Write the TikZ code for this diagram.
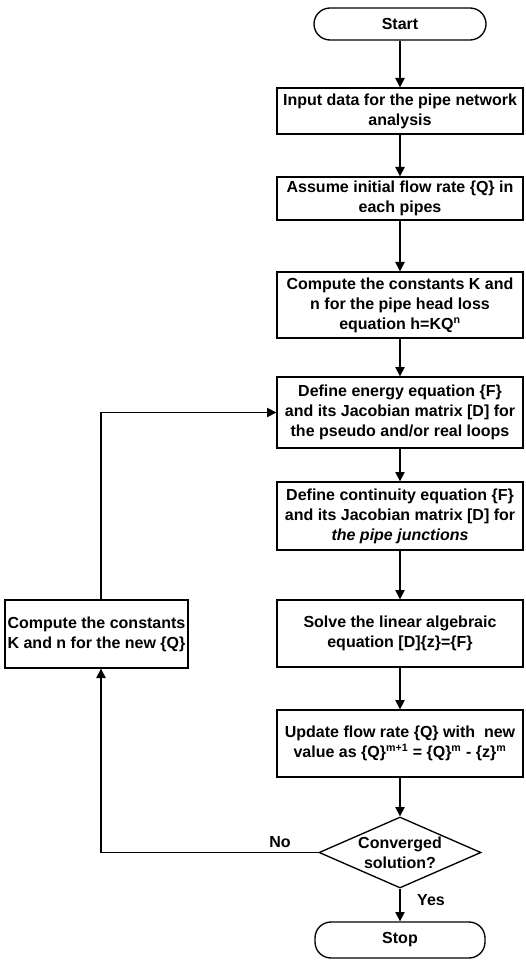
\documentclass[tikz,border=0pt]{standalone}
\usepackage{fontspec}
\setmainfont{Liberation Sans}
\usetikzlibrary{shapes.geometric,arrows.meta}
\begin{document}
\begin{tikzpicture}[x=0.75pt,y=-0.75pt,
  font=\fontsize{12}{15}\selectfont\bfseries,
  box/.style={draw, line width=1pt, minimum width=184.5pt, align=center, inner sep=0pt},
  term/.style={draw, line width=1pt, rounded corners=12pt, align=center, inner sep=0pt},
  arr/.style={line width=1pt, -{Triangle[length=7pt,width=7pt]}},
  plain/.style={line width=1pt}]
\useasboundingbox (0,0) rectangle (525,962);

\node[term, minimum width=129pt, minimum height=24pt] (start) at (400,24) {Start};
\node[box, minimum height=34.5pt] (input) at (400,111) {Input data for the pipe network\\analysis};
\node[box, minimum height=32.25pt] (assume) at (400,198.5) {Assume initial flow rate \{Q\} in\\each pipes};
\node[box, minimum height=49.5pt] (kn) at (400,305) {Compute the constants K and\\n for the pipe head loss\\equation h=KQ\textsuperscript{n}};
\node[box, minimum height=53.25pt] (energy) at (400,412.5) {Define energy equation \{F\}\\and its Jacobian matrix [D] for\\the pseudo and/or real loops};
\node[box, minimum height=51pt] (cont) at (400,516) {Define continuity equation \{F\}\\and its Jacobian matrix [D] for\\\textit{the pipe junctions}};
\node[box, minimum height=50.25pt] (solve) at (400,633.5) {Solve the linear algebraic\\equation [D]\{z\}=\{F\}};
\node[box, minimum height=50.25pt] (update) at (400,743.5) {Update flow rate \{Q\} with\ \ new\\value as \{Q\}\textsuperscript{m+1} = \{Q\}\textsuperscript{m} - \{z\}\textsuperscript{m}};
\node[draw, line width=1pt, shape=diamond, minimum width=121.5pt, minimum height=53.25pt, inner sep=0pt] (dia) at (400,852.5) {};
\node[align=center, inner sep=0pt] (diatext) at (dia.center) {Converged\\solution?};
\node[term, minimum width=127.5pt, minimum height=27pt] (stop) at (400,940) {Stop};
\node[box, minimum width=137.25pt, minimum height=51pt] (left) at (96.5,634) {Compute the constants\\K and n for the new \{Q\}};
\coordinate (lx) at (101,0);

\draw[arr] (start) -- (input);
\draw[arr] (input) -- (assume);
\draw[arr] (assume) -- (kn);
\draw[arr] (kn) -- (energy);
\draw[arr] (energy) -- (cont);
\draw[arr] (cont) -- (solve);
\draw[arr] (solve) -- (update);
\draw[arr] (update) -- (dia);
\draw[arr] (dia) -- (stop);
\draw[arr] (dia.west) -| (left.south -| lx);
\draw[arr] (left.north -| lx) |- (energy.west);

\node[inner sep=0pt] (no) at (280,842) {No};
\node[inner sep=0pt] (yes) at (431,900) {Yes};
\end{tikzpicture}
\end{document}
